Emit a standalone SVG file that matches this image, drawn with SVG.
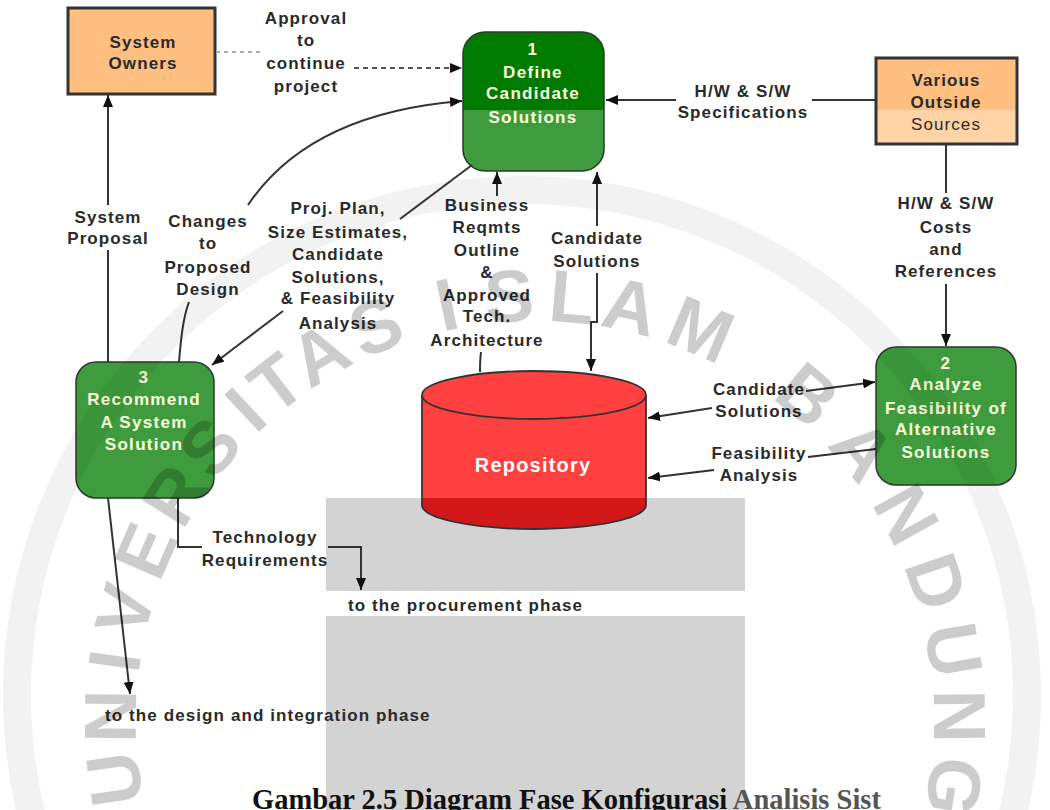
<svg xmlns="http://www.w3.org/2000/svg" width="1050" height="810" viewBox="0 0 1050 810">
<defs>
<style>
.lbl{font-family:"Liberation Sans",Arial,sans-serif;font-size:17px;font-weight:bold;fill:#2a2a2a;text-anchor:middle;letter-spacing:1.1px}
.lft{text-anchor:start}
.nt{font-family:"Liberation Sans",Arial,sans-serif;font-size:17px;font-weight:bold;fill:#ffffdc;text-anchor:middle;letter-spacing:1.3px}
.ext{fill:#ffbf80;stroke:#333;stroke-width:3}
.proc{fill:#3e9c3e;stroke:#2a3a2a;stroke-width:1.5}
.ln{fill:none;stroke:#333;stroke-width:2}
.arr{marker-end:url(#ah)}
.shade{fill:#d3d3d3}
.wmk text{font-family:"Liberation Sans",Arial,sans-serif;font-size:74px;font-weight:bold;fill:#000;fill-opacity:0.2;text-anchor:middle}
.cap{font-family:"Liberation Serif","Times New Roman",serif;font-size:28.5px;font-weight:bold;fill:#111}
</style>
<marker id="ah" markerUnits="userSpaceOnUse" markerWidth="12" markerHeight="10" refX="12" refY="5" orient="auto">
  <path d="M0,0 L12,5 L0,10 z" fill="#111"/>
</marker>
<clipPath id="clip1"><rect x="463" y="32" width="141" height="139" rx="22"/></clipPath>
<clipPath id="clipVar"><rect x="876" y="58" width="141" height="86"/></clipPath>
<clipPath id="clipCyl"><path d="M422,395 V505 A112,24 0 0 0 646,505 V395 Z"/></clipPath>
</defs>

<rect width="1050" height="810" fill="#fff"/>

<!-- grey backing panels -->
<rect class="shade" x="326" y="498" width="419" height="93"/>
<rect class="shade" x="326" y="616" width="419" height="194"/>

<!-- external entities -->
<g id="system-owners">
  <rect class="ext" x="68" y="8" width="147" height="86"/>
  <text class="lbl" x="143" y="48">System</text>
  <text class="lbl" x="143" y="69">Owners</text>
</g>

<g id="outside-sources">
  <rect x="876" y="58" width="141" height="86" fill="#ffbf80"/>
  <rect x="876" y="110" width="141" height="40" fill="#ffd3a6" clip-path="url(#clipVar)"/>
  <rect x="876" y="58" width="141" height="86" fill="none" stroke="#333" stroke-width="3"/>
  <text class="lbl" x="946" y="86">Various</text>
  <text class="lbl" x="946" y="108">Outside</text>
  <text class="lbl" x="946" y="130" style="font-weight:normal">Sources</text>
</g>

<!-- processes -->
<g id="define-candidate-solutions">
  <rect x="463" y="32" width="141" height="139" rx="22" fill="#007b00"/>
  <rect x="463" y="110" width="141" height="61" fill="#3e9c3e" clip-path="url(#clip1)"/>
  <rect x="463" y="32" width="141" height="139" rx="22" fill="none" stroke="#2a3a2a" stroke-width="1.5"/>
  <text class="nt" x="533" y="55">1</text>
  <text class="nt" x="533" y="78">Define</text>
  <text class="nt" x="533" y="99">Candidate</text>
  <text class="nt" x="533" y="123">Solutions</text>
</g>

<g id="analyze-feasibility">
  <rect class="proc" x="876" y="347" width="140" height="138" rx="20"/>
  <text class="nt" x="946" y="369">2</text>
  <text class="nt" x="946" y="390">Analyze</text>
  <text class="nt" x="946" y="414">Feasibility of</text>
  <text class="nt" x="946" y="435">Alternative</text>
  <text class="nt" x="946" y="458">Solutions</text>
</g>

<g id="recommend-solution">
  <rect class="proc" x="76" y="362" width="138" height="136" rx="20"/>
  <text class="nt" x="144" y="383">3</text>
  <text class="nt" x="144" y="405">Recommend</text>
  <text class="nt" x="144" y="428">A System</text>
  <text class="nt" x="144" y="450">Solution</text>
</g>

<!-- data store -->
<g id="repository">
  <path d="M422,395 V505 A112,24 0 0 0 646,505 V395 Z" fill="#ff4040"/>
  <rect x="420" y="498" width="230" height="40" fill="#d21818" clip-path="url(#clipCyl)"/>
  <path d="M422,395 V505 A112,24 0 0 0 646,505 V395" fill="none" stroke="#333" stroke-width="1.8"/>
  <ellipse cx="534" cy="395" rx="112" ry="24" fill="#ff4040" stroke="#333" stroke-width="1.8"/>
  <text x="533" y="472" style="font-family:'Liberation Sans',Arial,sans-serif;font-size:20px;font-weight:bold;fill:#fff;text-anchor:middle;letter-spacing:1.2px">Repository</text>
</g>

<!-- data flows -->
<g id="connectors">
  <path class="ln" d="M108,362 V250"/>
  <path class="ln arr" d="M108,205 V95"/>
  <path d="M216,52 H264" fill="none" stroke="#aaa" stroke-width="2" stroke-dasharray="4 4"/>
  <path class="arr" d="M354,68 H462" fill="none" stroke="#555" stroke-width="2" stroke-dasharray="5 4"/>
  <path class="ln" d="M179,362 C181,338 183,318 189,302"/>
  <path class="ln arr" d="M248,205 C285,150 350,110 462,101"/>
  <path class="ln" d="M472,165 L400,219"/>
  <path class="ln arr" d="M283,311 L212,365"/>
  <path class="ln arr" d="M497,196 V172"/>
  <path class="ln" d="M481,352 C480,360 480,366 480,372"/>
  <path class="ln arr" d="M597,226 V172"/>
  <path class="ln arr" d="M597,273 V322 H591 V371"/>
  <path class="ln" d="M876,100 H812"/>
  <path class="ln arr" d="M676,100 H606"/>
  <path class="ln" d="M946,145 V193"/>
  <path class="ln arr" d="M946,284 V346"/>
  <path class="ln arr" d="M806,391 L875,382"/>
  <path class="ln arr" d="M712,408 L648,418"/>
  <path class="ln" d="M876,449 L808,457"/>
  <path class="ln arr" d="M714,470 L648,478"/>
  <path class="ln arr" d="M108,498 L130,694"/>
  <path class="ln" d="M178,498 V547 H202"/>
  <path class="ln arr" d="M328,547 H361 V590"/>
</g>

<!-- flow labels -->
<g id="flow-labels">
  <text class="lbl" x="306" y="24">Approval</text>
  <text class="lbl" x="306" y="46">to</text>
  <text class="lbl" x="306" y="69">continue</text>
  <text class="lbl" x="306" y="92">project</text>

  <text class="lbl" x="743" y="97">H/W &amp; S/W</text>
  <text class="lbl" x="743" y="118">Specifications</text>

  <text class="lbl" x="108" y="223">System</text>
  <text class="lbl" x="108" y="244">Proposal</text>

  <text class="lbl" x="208" y="227">Changes</text>
  <text class="lbl" x="208" y="249">to</text>
  <text class="lbl" x="208" y="273">Proposed</text>
  <text class="lbl" x="208" y="295">Design</text>

  <text class="lbl" x="338" y="214">Proj. Plan,</text>
  <text class="lbl" x="338" y="238">Size Estimates,</text>
  <text class="lbl" x="338" y="260">Candidate</text>
  <text class="lbl" x="338" y="283">Solutions,</text>
  <text class="lbl" x="338" y="304">&amp; Feasibility</text>
  <text class="lbl" x="338" y="329">Analysis</text>

  <text class="lbl" x="487" y="211">Business</text>
  <text class="lbl" x="487" y="233">Reqmts</text>
  <text class="lbl" x="487" y="256">Outline</text>
  <text class="lbl" x="487" y="278">&amp;</text>
  <text class="lbl" x="487" y="301">Approved</text>
  <text class="lbl" x="487" y="322">Tech.</text>
  <text class="lbl" x="487" y="346">Architecture</text>

  <text class="lbl" x="597" y="244">Candidate</text>
  <text class="lbl" x="597" y="267">Solutions</text>

  <text class="lbl" x="946" y="209">H/W &amp; S/W</text>
  <text class="lbl" x="946" y="233">Costs</text>
  <text class="lbl" x="946" y="255">and</text>
  <text class="lbl" x="946" y="277">References</text>

  <text class="lbl" x="759" y="395">Candidate</text>
  <text class="lbl" x="759" y="417">Solutions</text>

  <text class="lbl" x="759" y="459">Feasibility</text>
  <text class="lbl" x="759" y="481">Analysis</text>

  <text class="lbl" x="265" y="543">Technology</text>
  <text class="lbl" x="265" y="566">Requirements</text>

  <text class="lbl lft" x="348" y="611">to the procurement phase</text>
  <text class="lbl lft" x="105" y="721">to the design and integration phase</text>
</g>

<!-- caption, running off the bottom edge -->
<text class="cap" x="252" y="809">Gambar 2.5 Diagram Fase Konfigurasi<tspan fill="#555"> Analisis Sist</tspan></text>

<!-- circular seal: ring plus letters set around it -->
<g id="seal">
  <circle cx="522" cy="695" r="505" fill="none" stroke="#000" stroke-opacity="0.05" stroke-width="28"/>
  <g class="wmk">
    <text transform="translate(139.9,775.5) rotate(262)">U</text>
    <text transform="translate(136.0,716.5) rotate(270.5)">N</text>
    <text transform="translate(139.9,664.5) rotate(278)">I</text>
    <text transform="translate(149.6,616.7) rotate(285)">V</text>
    <text transform="translate(169.1,560.9) rotate(293.5)">E</text>
    <text transform="translate(196.6,508.6) rotate(302)">R</text>
    <text transform="translate(229.4,463.5) rotate(310)">S</text>
    <text transform="translate(262.9,428.2) rotate(317)">I</text>
    <text transform="translate(292.1,403.4) rotate(322.5)">T</text>
    <text transform="translate(332.5,376.2) rotate(329.5)">A</text>
    <text transform="translate(385.5,350.0) rotate(338)">S</text>
    <text transform="translate(452.0,329.7) rotate(348)">I</text>
    <text transform="translate(510.6,321.8) rotate(356.5)">S</text>
    <text transform="translate(569.8,322.5) rotate(5)">L</text>
    <text transform="translate(624.8,331.2) rotate(13)">A</text>
    <text transform="translate(690.9,352.7) rotate(23)">M</text>
    <text transform="translate(791.5,414.4) rotate(40)">B</text>
    <text transform="translate(842.9,466.2) rotate(50.5)">A</text>
    <text transform="translate(884.0,526.6) rotate(61)">N</text>
    <text transform="translate(912.3,590.1) rotate(71)">D</text>
    <text transform="translate(928.5,654.2) rotate(80.5)">U</text>
    <text transform="translate(934.0,716.5) rotate(89.5)">N</text>
    <text transform="translate(929.1,782.4) rotate(99)">G</text>
  </g>
</g>
</svg>
